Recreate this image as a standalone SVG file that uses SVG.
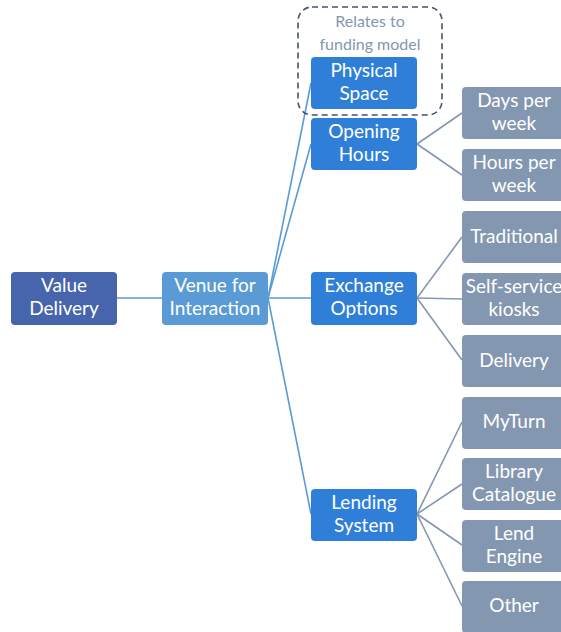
<svg xmlns="http://www.w3.org/2000/svg" width="561" height="632" viewBox="0 0 561 632">
  <style>
    .node text { font-family: Lato, "Open Sans", sans-serif; font-size: 19px; fill: #ffffff; text-anchor: middle; }
    .root rect { fill: #4765ad; }
    .venue rect { fill: #5b9bd5; }
    .l2 rect { fill: #2f7fd9; }
    .l3 rect { fill: #8497b0; }
    .l1line { stroke: #5b9bd5; stroke-width: 1.6; fill: none; }
    .l3line { stroke: #8497b0; stroke-width: 1.6; fill: none; }
    .note { font-family: Lato, "Open Sans", sans-serif; font-size: 16px; fill: #8497b0; text-anchor: middle; }
  </style>
  <rect width="561" height="632" fill="#ffffff"/>

  <!-- connectors -->
  <g id="connectors">
    <line class="l1line" x1="117" y1="298" x2="162" y2="298"/>
    <line class="l1line" x1="268" y1="298" x2="311" y2="83"/>
    <line class="l1line" x1="268" y1="298" x2="311" y2="144"/>
    <line class="l1line" x1="268" y1="298" x2="311" y2="298"/>
    <line class="l1line" x1="268" y1="298" x2="311" y2="514"/>
    <line class="l3line" x1="417" y1="144" x2="462" y2="113"/>
    <line class="l3line" x1="417" y1="144" x2="462" y2="175"/>
    <line class="l3line" x1="417" y1="298" x2="462" y2="237"/>
    <line class="l3line" x1="417" y1="298" x2="462" y2="299"/>
    <line class="l3line" x1="417" y1="298" x2="462" y2="360"/>
    <line class="l3line" x1="417" y1="514" x2="462" y2="422"/>
    <line class="l3line" x1="417" y1="514" x2="462" y2="484"/>
    <line class="l3line" x1="417" y1="514" x2="462" y2="545"/>
    <line class="l3line" x1="417" y1="514" x2="462" y2="606"/>
  </g>

  <!-- funding model callout -->
  <g id="funding-note">
    <rect x="298" y="7" width="144" height="108" rx="14" fill="none" stroke="#44546a" stroke-width="1.6" stroke-dasharray="6 4"/>
    <text class="note" x="370" y="27">Relates to</text>
    <text class="note" x="370" y="50">funding model</text>
  </g>

  <g id="value-delivery" class="node root">
    <rect x="11" y="272" width="106" height="53" rx="4"/>
    <text x="64" y="292">Value</text>
    <text x="64" y="315">Delivery</text>
  </g>
  <g id="venue" class="node venue">
    <rect x="162" y="272" width="106" height="53" rx="4"/>
    <text x="215" y="292">Venue for</text>
    <text x="215" y="315">Interaction</text>
  </g>

  <g id="physical-space" class="node l2">
    <rect x="311" y="57" width="106" height="52" rx="4"/>
    <text x="364" y="77">Physical</text>
    <text x="364" y="100">Space</text>
  </g>
  <g id="opening-hours" class="node l2">
    <rect x="311" y="118" width="106" height="52" rx="4"/>
    <text x="364" y="138">Opening</text>
    <text x="364" y="161">Hours</text>
  </g>
  <g id="exchange-options" class="node l2">
    <rect x="311" y="272" width="106" height="53" rx="4"/>
    <text x="364" y="292">Exchange</text>
    <text x="364" y="315">Options</text>
  </g>
  <g id="lending-system" class="node l2">
    <rect x="311" y="489" width="106" height="52" rx="4"/>
    <text x="364" y="509">Lending</text>
    <text x="364" y="532">System</text>
  </g>

  <g id="days-per-week" class="node l3">
    <rect x="462" y="87" width="106" height="52" rx="4"/>
    <text x="514" y="107">Days per</text>
    <text x="514" y="130">week</text>
  </g>
  <g id="hours-per-week" class="node l3">
    <rect x="462" y="149" width="106" height="52" rx="4"/>
    <text x="514" y="169">Hours per</text>
    <text x="514" y="192">week</text>
  </g>
  <g id="traditional" class="node l3">
    <rect x="462" y="211" width="106" height="52" rx="4"/>
    <text x="514" y="243">Traditional</text>
  </g>
  <g id="self-service" class="node l3">
    <rect x="462" y="273" width="106" height="52" rx="4"/>
    <text x="514" y="293">Self-service</text>
    <text x="514" y="316">kiosks</text>
  </g>
  <g id="delivery" class="node l3">
    <rect x="462" y="335" width="106" height="52" rx="4"/>
    <text x="514" y="367">Delivery</text>
  </g>
  <g id="myturn" class="node l3">
    <rect x="462" y="397" width="106" height="52" rx="4"/>
    <text x="514" y="428">MyTurn</text>
  </g>
  <g id="library-catalogue" class="node l3">
    <rect x="462" y="458" width="106" height="52" rx="4"/>
    <text x="514" y="478">Library</text>
    <text x="514" y="501">Catalogue</text>
  </g>
  <g id="lend-engine" class="node l3">
    <rect x="462" y="520" width="106" height="52" rx="4"/>
    <text x="514" y="540">Lend</text>
    <text x="514" y="563">Engine</text>
  </g>
  <g id="other" class="node l3">
    <rect x="462" y="581" width="106" height="52" rx="4"/>
    <text x="514" y="612">Other</text>
  </g>
</svg>
